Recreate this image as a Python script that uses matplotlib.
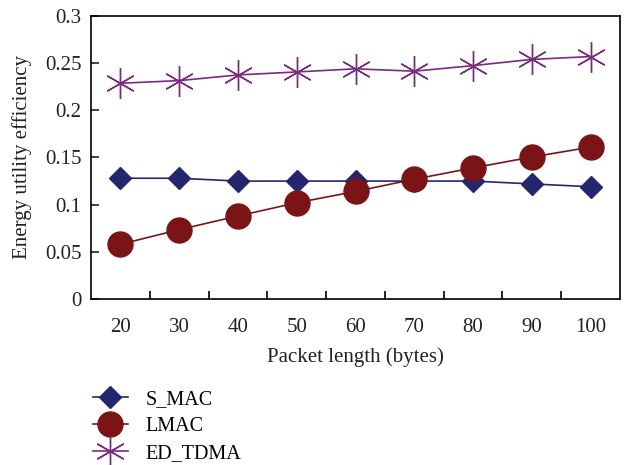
import numpy as np
import matplotlib.pyplot as plt
from matplotlib.ticker import FixedLocator

plt.rcParams['font.family'] = ['Liberation Serif', 'DejaVu Serif']

# data
packet_len = ['20', '30', '40', '50', '60', '70', '80', '90', '100']
s_mac = [0.128, 0.128, 0.125, 0.125, 0.125, 0.125, 0.125, 0.122, 0.119]
lmac = [0.058, 0.0735, 0.088, 0.102, 0.114, 0.127, 0.139, 0.1505, 0.161]
ed_tdma = [0.2287, 0.2315, 0.2375, 0.2407, 0.244, 0.2415, 0.2474, 0.254, 0.257]

x = np.arange(len(packet_len))

fig = plt.figure(figsize=(6.25, 4.65), dpi=100)
ax = fig.add_axes([0.1456, 0.357, 0.8464, 0.6086])

ax.plot(x, s_mac, color='#25276e', lw=1.2, marker='D', ms=11,
        label='S_MAC')
ax.plot(x, lmac, color='#7b1416', lw=1.2, marker='o', ms=18,
        label='LMAC')
ax.plot(x, ed_tdma, color='#7b2a7e', lw=1.2, marker=(6, 2, 0), ms=22,
        mew=1.0, label='ED_TDMA')

ax.set_xlim(-0.5, len(packet_len) - 0.5)
ax.set_ylim(0, 0.3)
ax.set_xticks(x)
ax.set_xticklabels(packet_len)
ax.xaxis.set_minor_locator(FixedLocator(np.arange(0.5, len(packet_len) - 1, 1)))
ax.set_yticks([0, 0.05, 0.1, 0.15, 0.2, 0.25, 0.3])
ax.set_yticklabels(['0', '0.05', '0.1', '0.15', '0.2', '0.25', '0.3'])
ax.tick_params(axis='x', which='major', length=0, labelsize=15, pad=14,
               colors='#222222')
ax.tick_params(axis='x', which='minor', direction='in', length=6, width=1.2)
ax.tick_params(axis='y', direction='in', length=6, width=1.2, labelsize=15,
               colors='#222222', pad=7)
for sp in ax.spines.values():
    sp.set_linewidth(1.2)

ax.set_xlabel('Packet length (bytes)', fontsize=15, color='#222222',
              labelpad=7)
ax.set_ylabel('Energy utility efficiency', fontsize=15, color='#222222',
              labelpad=9)

fig.legend(loc='upper left', bbox_to_anchor=(0.13, 0.187), frameon=False,
           fontsize=14.5, handlelength=1.7, handletextpad=0.9,
           labelspacing=0.4, markerscale=1.0, borderaxespad=0.2)

plt.savefig('out.png', dpi=100)
